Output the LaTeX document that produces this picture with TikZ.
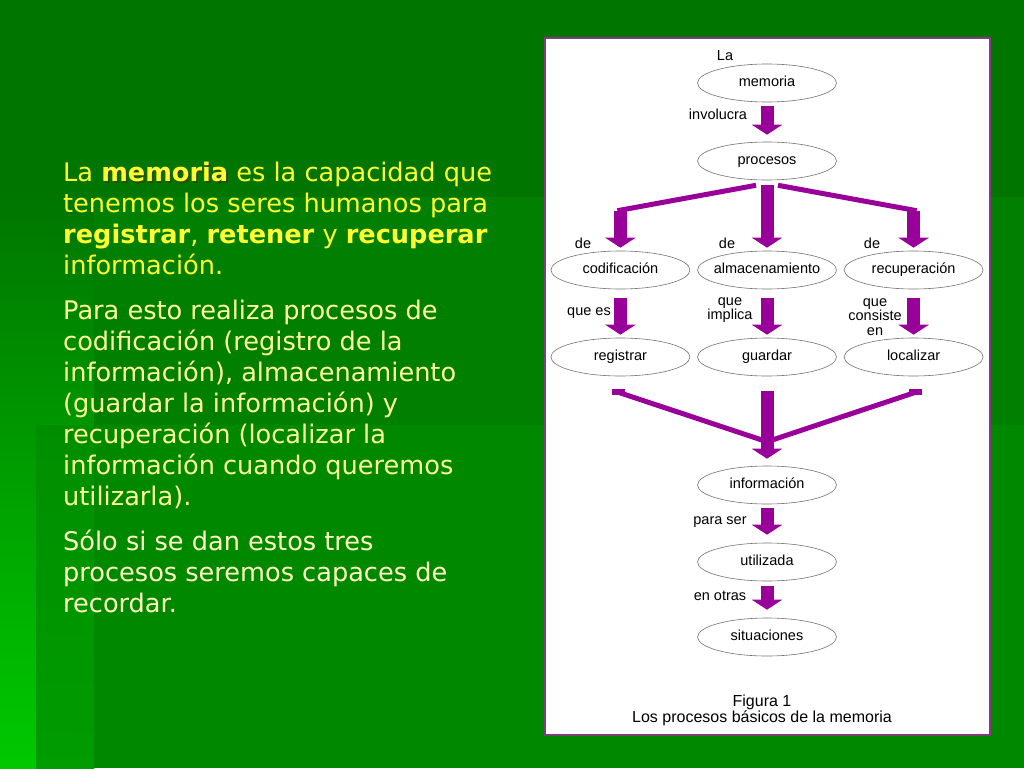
\documentclass[tikz,border=0pt]{standalone}
\usepackage{fontspec}
\setmainfont{DejaVu Sans}
\newfontfamily\figurfont{Liberation Sans}
\usetikzlibrary{positioning,shapes.geometric,arrows.meta,calc}
%
\definecolor{gruenoben}{HTML}{007600}
\definecolor{gruenmitte}{HTML}{007F00}
\definecolor{gruenunten}{HTML}{008800}
\definecolor{gruenhell}{HTML}{00C800}
\definecolor{streifenoben}{HTML}{008E00}
\definecolor{streifenunten}{HTML}{009C00}
\definecolor{rahmen}{HTML}{803C80}
\definecolor{pfeilviolett}{HTML}{990099}
\definecolor{textgelb}{HTML}{FFFF33}
\definecolor{textblass}{HTML}{FFFF99}
\definecolor{textcreme}{HTML}{FFFFC4}
\definecolor{schatten}{HTML}{2E4A00}
%
\newcommand{\schattentext}[1]{\makebox[0pt][l]{\hspace{1.6pt}\raisebox{-1.6pt}{\color{schatten}#1}}#1}
%
\tikzset{
	begriff/.style={ellipse, draw=black!55, line width=0.6pt, fill=white,
		minimum width=139pt, minimum height=38pt, inner xsep=-20pt, inner ysep=0pt,
		text height=10.5pt, text depth=3pt,
		font=\figurfont\fontsize{14.5}{14.5}\selectfont},
	beschriftung/.style={inner sep=0pt, align=center,
		font=\figurfont\fontsize{14.5}{14.5}\selectfont},
	pfeil/.style={draw=pfeilviolett, line width=13pt,
		-{Triangle[width=30pt,length=10pt]}},
	ast/.style={draw=pfeilviolett, line width=5pt},
	stummel/.style={draw=pfeilviolett, line width=13pt}
}
%
\begin{document}
\begin{tikzpicture}[
	x=1pt,% 1px im Bild
	y=-1pt,% y zaehlt nach unten
	node distance=7pt
]
\useasboundingbox (0,0) rectangle (1024,768);
%
% Hintergrund der Folie
\fill[gruenoben] (0,0) rectangle (1024,768);
\shade[top color=gruenoben, bottom color=gruenhell] (0,197) rectangle (94,768);
\fill[gruenmitte] (94,197) rectangle (1024,768);
\shade[top color=streifenoben, bottom color=streifenunten] (36,425) rectangle (94,768);
\fill[gruenunten] (94,425) rectangle (1024,768);
%
% Text links
\node(p_text)%
    [anchor=north west, inner sep=0pt, align=left,
     font=\fontsize{25.6}{31}\selectfont]%
    at (63,162)%
    {\color{textgelb}La \textbf{\schattentext{memoria}} es la capacidad que\\
     \color{textgelb}tenemos los seres humanos para\\
     \color{textgelb}\textbf{registrar}, \textbf{retener} y \textbf{recuperar}\\
     \color{textgelb}información.\\[14pt]
     \color{textblass}Para esto realiza procesos de\\
     \color{textblass}codificación (registro de la\\
     \color{textblass}información), almacenamiento\\
     \color{textblass}(guardar la información) y\\
     \color{textblass}recuperación (localizar la\\
     \color{textblass}información cuando queremos\\
     \color{textblass}utilizarla).\\[14pt]
     \color{textcreme}Sólo si se dan estos tres\\
     \color{textcreme}procesos seremos capaces de\\
     \color{textcreme}recordar.};%
%
% Abbildung
\draw[rahmen, line width=2pt, fill=white] (545,38) rectangle (990,735);
%
\node(p_memoria)%
    [begriff]%
    at (767,83)%
    {memoria};%
\node(p_procesos)%
    [begriff]%
    at (767,161)%
    {procesos};%
\node(p_almacenamiento)%
    [begriff]%
    at (767,270)%
    {almacenamiento};%
\node(p_codificacion)%
    [begriff, left=of p_almacenamiento]%
    {codificación};%
\node(p_recuperacion)%
    [begriff, right=of p_almacenamiento]%
    {recuperación};%
\node(p_guardar)%
    [begriff]%
    at (767,357)%
    {guardar};%
\node(p_registrar)%
    [begriff, left=of p_guardar]%
    {registrar};%
\node(p_localizar)%
    [begriff, right=of p_guardar]%
    {localizar};%
\node(p_informacion)%
    [begriff]%
    at (767,485)%
    {información};%
\node(p_utilizada)%
    [begriff]%
    at (767,562)%
    {utilizada};%
\node(p_situaciones)%
    [begriff]%
    at (767,637)%
    {situaciones};%
%
% Beschriftungen
\node(l_la)[beschriftung] at (725,56) {La};%
\node(l_involucra)[beschriftung] at (718,114) {involucra};%
\node(l_de_cod)[beschriftung] at (583,243) {de};%
\node(l_de_alm)[beschriftung] at (727,243) {de};%
\node(l_de_rec)[beschriftung] at (872,243) {de};%
\node(l_que_es)[beschriftung] at (589,313) {que es};%
\node(l_que_implica)[beschriftung] at (730,310) {que\\implica};%
\node(l_que_consiste)[beschriftung] at (875,317) {que\\consiste\\en};%
\node(l_para_ser)[beschriftung] at (720,522) {para ser};%
\node(l_en_otras)[beschriftung] at (720,596) {en otras};%
\node(l_figura)%
    [beschriftung, font=\figurfont\fontsize{16}{16}\selectfont]%
    at (762,710)%
    {Figura 1\\Los procesos básicos de la memoria};%
%
% Pfeile
\coordinate(k_cod) at ($(p_codificacion.north)+(0,-40)$);
\coordinate(k_rec) at ($(p_recuperacion.north)+(0,-40)$);
\coordinate(k_mitte) at ($(p_informacion.north)+(0,-24)$);
%
\draw[pfeil, shorten <=4pt, shorten >=7pt] (p_memoria) -- (p_procesos);
\draw[pfeil, shorten <=5pt, shorten >=3pt] (p_procesos) -- (p_almacenamiento);
\draw[ast] ($(p_procesos.south)+(-11,5)$) -- ($(k_cod)+(-3,0)$);
\draw[ast] ($(p_procesos.south)+(11,5)$) -- ($(k_rec)+(3,0)$);
\draw[pfeil, shorten >=3pt] (k_cod) -- (p_codificacion);
\draw[pfeil, shorten >=3pt] (k_rec) -- (p_recuperacion);
%
\draw[pfeil, shorten <=9pt, shorten >=3pt] (p_codificacion) -- (p_registrar);
\draw[pfeil, shorten <=9pt, shorten >=3pt] (p_almacenamiento) -- (p_guardar);
\draw[pfeil, shorten <=9pt, shorten >=3pt] (p_recuperacion) -- (p_localizar);
%
\draw[stummel] ($(p_registrar.south)+(-2,13)$) -- ++(0,6);
\draw[stummel] ($(p_localizar.south)+(2,13)$) -- ++(0,6);
\draw[ast] ($(p_registrar.south)+(-2,16)$) -- (k_mitte);
\draw[ast] ($(p_localizar.south)+(2,16)$) -- (k_mitte);
\draw[pfeil, shorten <=15pt, shorten >=7pt] (p_guardar) -- (p_informacion);
%
\draw[pfeil, shorten <=4pt, shorten >=8pt] (p_informacion) -- (p_utilizada);
\draw[pfeil, shorten <=5pt, shorten >=8pt] (p_utilizada) -- (p_situaciones);
%
\end{tikzpicture}
\end{document}
